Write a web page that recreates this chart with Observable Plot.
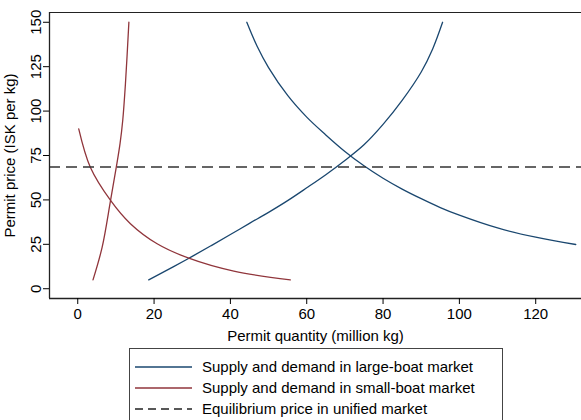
<!DOCTYPE html>
<html>
<head>
<meta charset="utf-8">
<script src="https://cdn.jsdelivr.net/npm/d3@7"></script>
<script src="https://cdn.jsdelivr.net/npm/@observablehq/plot@0.6"></script>
<style>
  body { margin: 0; background: #fff; font-family: "Liberation Sans", Arial, Helvetica, sans-serif; }
  #wrap { position: relative; width: 581px; height: 420px; overflow: hidden; }
  #legend { position: absolute; left: 129px; top: 348px; width: 374px; height: 90px; border: 1px solid #444; box-sizing: border-box; padding-top: 7px; }
  .item { display: flex; align-items: center; height: 21px; font-size: 15px; color: #000; }
  .swatch { margin-left: 5px; margin-right: 10px; }
</style>
</head>
<body>
<div id="wrap">
  <div id="chart"></div>
  <div id="legend"></div>
</div>
<script>
const largeSupplyQ = [18.6, 25, 30, 35, 40, 45, 50, 55, 60, 65, 70, 75, 80, 85, 90, 93, 95.6];
const largeSupplyP = [5, 12.3, 18.2, 24.3, 30.5, 36.8, 43, 49.6, 56.8, 64.2, 72.2, 81, 92.5, 106, 122, 135, 150];
const largeDemandQ = [44.3, 47, 50, 55, 60, 65, 70, 75, 80, 85, 90, 95, 100, 110, 120, 130.5];
const largeDemandP = [150, 136.5, 124.5, 108.8, 96.6, 86.6, 77.3, 69.2, 62.2, 56.1, 50.7, 45.7, 41.4, 34.2, 29, 24.9];
const smallSupplyQ = [4.0, 6.4, 8.6, 10.1, 11.1, 11.8, 12.5, 13.4];
const smallSupplyP = [5, 23.4, 49.7, 68.4, 82, 95, 115.4, 150];
const smallDemandQ = [0.26, 3.3, 8.6, 13.8, 20.8, 29.1, 40.9, 55.7];
const smallDemandP = [90, 68.4, 49.7, 36.6, 25.3, 17.2, 9.9, 5];
const equilibriumPrice = 68.5;

const xTicks = [0, 20, 40, 60, 80, 100, 120];
const yTicks = [0, 25, 50, 75, 100, 125, 150];

const legendLabels = [
  "Supply and demand in large-boat market",
  "Supply and demand in small-boat market",
  "Equilibrium price in unified market"
];

const blue = "#1a476f";
const red = "#90353b";

const zip = (qs, ps) => qs.map((q, i) => ({q, p: ps[i]}));
const curves = [
  {data: zip(largeSupplyQ, largeSupplyP), color: blue},
  {data: zip(largeDemandQ, largeDemandP), color: blue},
  {data: zip(smallSupplyQ, smallSupplyP), color: red},
  {data: zip(smallDemandQ, smallDemandP), color: red}
];

const chart = Plot.plot({
  width: 581,
  height: 345,
  marginLeft: 49,
  marginRight: 0,
  marginTop: 12,
  marginBottom: 47,
  style: {fontFamily: "'Liberation Sans', Arial, sans-serif", fontSize: "15px", color: "#000", background: "#fff"},
  x: {domain: [-7.4, 132]},
  y: {domain: [-5.5, 155.5]},
  marks: [
    ...curves.map(c => Plot.line(c.data, {x: "q", y: "p", stroke: c.color, strokeWidth: 1.3, curve: "catmull-rom"})),
    Plot.ruleY([equilibriumPrice], {stroke: "#333", strokeWidth: 1.6, strokeDasharray: "11,6"}),
    Plot.ruleY([-5.5], {stroke: "#222", strokeWidth: 1.3}),
    Plot.ruleX([-7.4], {stroke: "#222", strokeWidth: 1.3}),
    Plot.ruleY([155.5], {stroke: "#222", strokeWidth: 1}),
    Plot.axisX({ticks: xTicks, tickSize: 6, tickPadding: 4, fontSize: 15, label: "Permit quantity (million kg)", labelAnchor: "center", labelArrow: "none", labelOffset: 42}),
    Plot.axisY({ticks: yTicks, tickSize: 6, tickPadding: 3, tickRotate: -90, fontSize: 15, label: "Permit price (ISK per kg)", labelAnchor: "center", labelArrow: "none", labelOffset: 45})
  ]
});
document.getElementById("chart").appendChild(chart);

const legend = document.getElementById("legend");
const swatches = [
  `<line x1="0" y1="1" x2="57" y2="1" stroke="${blue}" stroke-width="1.5"/>`,
  `<line x1="0" y1="1" x2="57" y2="1" stroke="${red}" stroke-width="1.5"/>`,
  `<line x1="0" y1="1" x2="57" y2="1" stroke="#222" stroke-width="1.5" stroke-dasharray="8,5"/>`
];
legendLabels.forEach((lab, i) => {
  const row = document.createElement("div");
  row.className = "item";
  row.innerHTML = `<svg class="swatch" width="57" height="2">${swatches[i]}</svg><span>${lab}</span>`;
  legend.appendChild(row);
});
</script>
</body>
</html>
